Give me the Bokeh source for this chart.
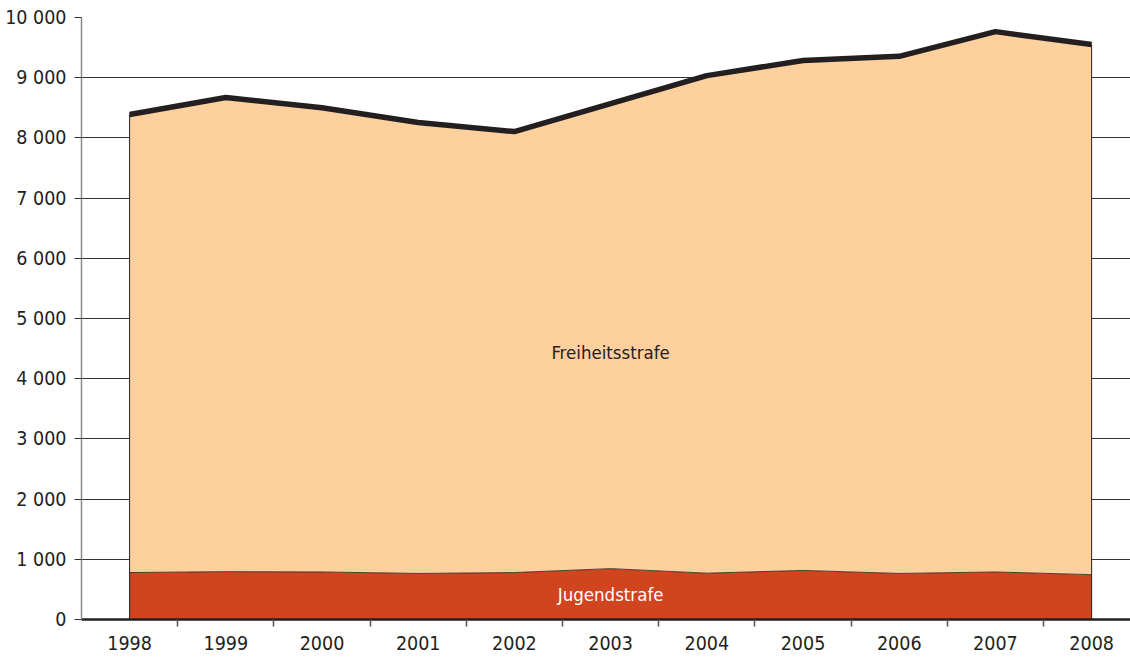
from bokeh.plotting import figure
from bokeh.models import ColumnDataSource, FixedTicker, Label, Range1d
from bokeh.transform import stack
from bokeh.embed import file_html
from bokeh.resources import INLINE

years = [1998, 1999, 2000, 2001, 2002, 2003, 2004, 2005, 2006, 2007, 2008]
jugendstrafe = [780, 795, 790, 765, 780, 845, 770, 815, 765, 790, 745]
freiheitsstrafe = [7610, 7875, 7710, 7490, 7325, 7725, 8265, 8470, 8590, 8975, 8805]
y_ticks = [0, 1000, 2000, 3000, 4000, 5000, 6000, 7000, 8000, 9000, 10000]
y_tick_labels = ["0", "1 000", "2 000", "3 000", "4 000", "5 000", "6 000",
                 "7 000", "8 000", "9 000", "10 000"]

FONT = "'DejaVu Sans Condensed', 'Roboto Condensed', 'Liberation Sans Narrow', 'Arial Narrow', Roboto, sans-serif"
DARK = "#231f20"

totals = [j + f for j, f in zip(jugendstrafe, freiheitsstrafe)]
src = ColumnDataSource(dict(year=years, jug=jugendstrafe, frei=freiheitsstrafe,
                            total=totals, zero=[0] * len(years)))

p = figure(width=1130, height=656, output_backend="svg", toolbar_location=None,
           x_range=Range1d(1997.5, 2008.404), y_range=Range1d(0, 10000),
           min_border_left=81, min_border_right=0, min_border_top=17,
           min_border_bottom=37, background_fill_color="white",
           border_fill_color="white", outline_line_color=None)

p.varea_stack(stackers=["jug", "frei"], x="year", color=["#d0441e", "#fdd09e"],
              source=src)
# boundary line between areas
p.line(x="year", y="jug", source=src, line_color=DARK, line_width=1, line_alpha=0.8)
# left / right edges
edge = ColumnDataSource(dict(x=[years[0], years[-1]], y0=[0, 0],
                             y1=[totals[0], totals[-1]]))
p.segment(x0="x", y0="y0", x1="x", y1="y1", source=edge, line_color=DARK, line_width=1)
# top total line
p.line(x="year", y=stack("jug", "frei"), source=src, line_color=DARK, line_width=5.5)

# grid
p.xgrid.grid_line_color = None
p.ygrid.ticker = FixedTicker(ticks=y_ticks)
p.ygrid.grid_line_color = "#333333"
p.ygrid.grid_line_width = 1

# y axis
ya = p.yaxis[0]
ya.ticker = FixedTicker(ticks=y_ticks)
ya.major_label_overrides = {t: l for t, l in zip(y_ticks, y_tick_labels)}
ya.axis_line_color = "#8a8a8a"
ya.axis_line_width = 1.5
ya.major_tick_line_color = "#333333"
ya.major_tick_out = 7
ya.major_tick_in = 0
ya.minor_tick_line_color = None
ya.major_label_text_font = FONT
ya.major_label_text_font_size = "19.5px"
ya.major_label_text_color = DARK
ya.major_label_standoff = 8

# x axis
xa = p.xaxis[0]
xa.ticker = FixedTicker(ticks=years, minor_ticks=[y + 0.5 for y in years[:-1]])
xa.axis_line_color = DARK
xa.axis_line_width = 2.5
xa.major_tick_line_color = None
xa.major_tick_out = 0
xa.major_tick_in = 0
xa.minor_tick_line_color = "#555555"
xa.minor_tick_line_width = 1.5
xa.minor_tick_out = 7
xa.minor_tick_in = 0
xa.major_label_text_font = FONT
xa.major_label_text_font_size = "19.5px"
xa.major_label_text_color = DARK
xa.major_label_standoff = 9

p.add_layout(Label(x=2003, y=4430, text="Freiheitsstrafe", text_align="center",
                   text_baseline="middle", text_font=FONT, text_font_size="18.5px",
                   text_color=DARK))
p.add_layout(Label(x=2003, y=420, text="Jugendstrafe", text_align="center",
                   text_baseline="middle", text_font=FONT, text_font_size="18.5px",
                   text_color="white"))

open("out.html", "w").write(file_html(p, INLINE))
